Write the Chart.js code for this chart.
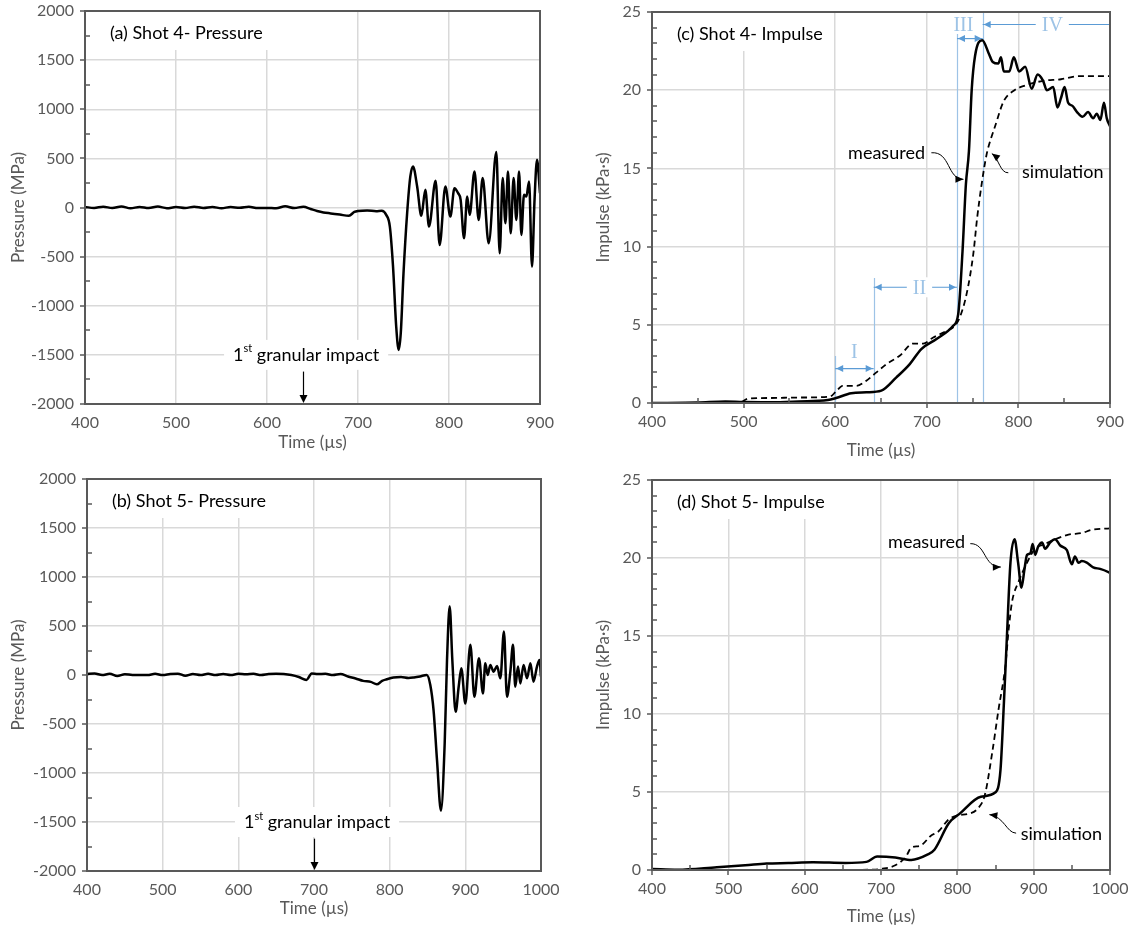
<!DOCTYPE html>
<html>
<head>
<meta charset="utf-8">
<script src="https://cdn.jsdelivr.net/npm/chart.js@4.4.1/dist/chart.umd.min.js"></script>
<style>
  html, body { margin: 0; padding: 0; background: #fff; }
  #wrap { position: relative; width: 1130px; height: 932px; }
  canvas { position: absolute; }
</style>
</head>
<body>
<div id="wrap">
  <canvas id="chartA" width="565" height="466" style="left:0;top:0"></canvas>
  <canvas id="chartC" width="565" height="466" style="left:565px;top:0"></canvas>
  <canvas id="chartB" width="565" height="466" style="left:0;top:466px"></canvas>
  <canvas id="chartD" width="565" height="466" style="left:565px;top:466px"></canvas>
</div>
<script>
// ─── Gauge records (time in µs) ──────────────────────────
const shot4PressureTime = [400, 410, 420, 430, 440, 450, 460, 470, 480, 490, 500, 510, 520, 530, 540, 550, 560, 570, 580, 590,
  600, 610, 620, 630, 640, 648, 655, 662, 670, 680, 690, 696, 700, 710, 720, 726, 731, 735, 738.5, 742, 744.7, 747, 750, 754,
  757.5, 760.4, 765, 769.6, 774, 778, 785.3, 789.7, 796, 801.5, 806, 810, 812.8, 816.5, 820, 822.7, 828, 832.6, 837, 843.6,
  852, 855.7, 859, 862, 864.8, 867.8, 871, 874, 877, 879.5, 882.4, 885, 888, 891.2, 894, 896.7, 900];
const shot4Pressure = [5, -4, 8, -6, 10, -8, 6, -5, 9, -7, 4, -6, 8, -4, 6, -8, 5, -3, 7, -6,
  -4, -8, 12, -6, 8, -15, -35, -50, -60, -72, -85, -45, -35, -30, -38, -34, -75, -194, -602, -1214, -1450, -1280, -670, -58,
  316, 418, 214, -85, 180, -194, 272, -381, 214, -92, 197, 146, 78, -313, 112, -75, 367, -126, 299, -364,
  564, -466, 299, -160, 367, -262, 299, -126, 367, -279, 129, 112, 265, -602, 78, 486, 146];

const shot5PressureTime = [400, 410, 420, 430, 440, 450, 460, 470, 480, 490, 500, 510, 520, 530, 540, 550, 560, 570, 580, 590,
  600, 610, 620, 630, 640, 650, 660, 670, 680, 690, 697, 705, 715, 725, 735, 745, 755, 765, 775, 783, 790, 796, 805, 815, 825,
  832, 840, 849, 853.7, 858, 862.6, 867.8, 872.7, 875.8, 879.3, 882.8, 887.2, 891.2, 894.7, 900, 906.6, 912, 918, 923.3, 926.4,
  929.5, 933, 937.4, 941.9, 946.3, 951, 955, 959.5, 963, 966, 969.6, 972.7, 977, 981.5, 986, 990, 994.7, 998, 1000];
const shot5Pressure = [10, 15, 0, 12, -10, 8, 0, 0, 0, 12, 0, 10, 14, -8, 10, 0, 12, 0, 10, 0,
  12, 8, 12, 0, 10, 12, 10, 0, -20, -50, 15, 10, 12, 0, 10, -15, -35, -60, -70, -95, -60, -44, -25, -20, -30,
  -25, -15, 0, -103, -359, -872, -1385, -701, 154, 701, 154, -376, -120, 68, -291, 308, -222, 171, -188, 120,
  0, 103, 34, 92, -34, 445, -222, 34, 308, -120, 86, -86, 103, -34, 120, -68, 86, 154, -17];

// Impulse (kPa·s): measured and simulated
const shot4MeasuredTime = [400, 450, 480, 500, 530, 560, 592, 601, 617.5, 634, 650.4, 666.8, 681.4, 694, 710.6, 728.8, 734.3,
  739, 742.7, 746, 749, 752.7, 760.5, 768, 772, 778, 781, 784, 790, 795, 800.8, 807.4, 814.5, 821, 827, 831, 838, 842.6,
  846.5, 850.4, 854.3, 859, 864, 870, 876, 881.6, 885.5, 889.5, 893.4, 896.5, 900];
const shot4Measured = [0, 0.03, 0.1, 0.06, 0.05, 0.1, 0.19, 0.32, 0.62, 0.68, 0.79, 1.64, 2.49, 3.45, 4.09, 4.94, 5.68,
  9.7, 14, 16.1, 20, 22.2, 23.2, 22.3, 21.8, 21.7, 22.1, 21.2, 21.2, 22.1, 21.2, 21.5, 20.1, 21, 20.6, 20, 20.2, 18.9,
  19.5, 20.2, 19.2, 19, 18.6, 18.3, 18.6, 18.2, 18.5, 18.1, 19.2, 18.2, 17.7];
const shot4SimTime = [400, 495, 505, 530, 560, 594, 601, 608, 623, 634, 645, 656, 670.4, 685, 696, 707, 721.5, 730.7, 736,
  743.4, 750.7, 755, 759.9, 765.3, 770, 774, 784, 795.7, 807.4, 827, 846.5, 866, 885.5, 900];
const shot4Sim = [0, 0.02, 0.28, 0.32, 0.35, 0.4, 0.74, 1.1, 1.1, 1.43, 1.96, 2.49, 3.02, 3.8, 3.8, 4.19, 4.6, 4.94, 5.47,
  6.96, 9.5, 11.85, 14, 15.9, 16.9, 17.6, 19.3, 20, 20.3, 20.6, 20.7, 20.9, 20.9, 20.9];

const shot5MeasuredTime = [400, 433.6, 485, 522, 550, 578.5, 611, 653, 681, 695, 718.7, 739.7, 760.7, 770, 788.8, 802.8, 830.8,
  850, 856.5, 861, 865, 869.6, 875, 879.6, 884, 888, 891.3, 895.6, 898.7, 902, 905.6, 911, 915, 921.7, 928, 934.8, 943.5,
  950, 954, 958.7, 963, 969.6, 978, 987, 998, 1000];
const shot5Measured = [0.07, 0.02, 0.18, 0.3, 0.41, 0.45, 0.5, 0.45, 0.52, 0.86, 0.8, 0.64, 0.98, 1.3, 3.0, 3.6, 4.7,
  4.98, 6.4, 10.7, 15, 19.7, 21.2, 19.7, 18.1, 19.3, 20.2, 20.3, 20.9, 20.2, 20.7, 21, 20.6, 21, 21.2, 20.8, 20.5,
  19.6, 20.1, 19.7, 19.8, 19.7, 19.4, 19.3, 19.1, 19.05];
const shot5SimTime = [400, 500, 600, 690, 700, 718.7, 732.7, 739.7, 751.4, 765.4, 774.8, 788.8, 800.5, 814.5, 826, 836,
  845.6, 854, 863, 867.4, 871.7, 880.4, 891.3, 902, 915, 928, 945.6, 963, 976, 1000];
const shot5Sim = [0, 0, 0, 0.02, 0.07, 0.3, 0.86, 1.43, 1.55, 2.2, 2.45, 3.25, 3.5, 3.6, 3.9, 4.8,
  7.5, 10.3, 13.1, 15.5, 17.2, 18.5, 19.7, 20.6, 20.9, 21.2, 21.5, 21.6, 21.8, 21.9];

Chart.defaults.font.family = 'Lato';
Chart.defaults.color = '#595959';

const pts = (ts, vs) => ts.map((t, i) => ({ x: t, y: vs[i] }));

// ─── Plot frame + Excel-style tick marks ──────────────────
const frame = {
  id: 'frame',
  afterDatasetsDraw(chart, args, opts) {
    const { ctx, chartArea: a, scales: { x, y } } = chart;
    ctx.save();
    ctx.strokeStyle = '#595959';
    ctx.lineWidth = 1.5;
    ctx.beginPath();
    const steps = Math.round((y.max - y.min) / opts.yMinor);
    for (let i = 0; i <= steps; i++) {
      const v = y.min + i * opts.yMinor;
      const py = Math.round(y.getPixelForValue(v));
      const major = Math.abs(v / opts.yMajor - Math.round(v / opts.yMajor)) < 1e-6;
      if (major) { ctx.moveTo(a.left - 5, py); ctx.lineTo(a.left, py); }
      else { ctx.moveTo(a.left, py); ctx.lineTo(a.left + 5, py); }
    }
    if (opts.xMinor) {
      const n = Math.round((x.max - x.min) / opts.xMinor);
      for (let i = 0; i <= n; i++) {
        const v = x.min + i * opts.xMinor;
        const pxx = Math.round(x.getPixelForValue(v));
        if (i % 2 === 0) { ctx.moveTo(pxx, a.bottom); ctx.lineTo(pxx, a.bottom + 5); }
        else { ctx.moveTo(pxx, a.bottom); ctx.lineTo(pxx, a.bottom - 5); }
      }
    }
    ctx.stroke();
    ctx.lineWidth = 2;
    ctx.strokeRect(a.left, a.top, a.width, a.height);
    ctx.restore();
  }
};

function toPx(chart, t, v) {
  return [chart.scales.x.getPixelForValue(t), chart.scales.y.getPixelForValue(v)];
}

function arrowHead(ctx, x0, y0, x1, y1, len, half) {
  const a = Math.atan2(y1 - y0, x1 - x0);
  const bx = x1 - len * Math.cos(a), by = y1 - len * Math.sin(a);
  ctx.beginPath();
  ctx.moveTo(x1, y1);
  ctx.lineTo(bx + half * Math.sin(a), by - half * Math.cos(a));
  ctx.lineTo(bx - half * Math.sin(a), by + half * Math.cos(a));
  ctx.closePath();
  ctx.fill();
}

function drawTitle(chart, text) {
  const { ctx, chartArea: a } = chart;
  ctx.save();
  ctx.font = '18px Lato';
  const w = ctx.measureText(text).width;
  ctx.fillStyle = '#fff';
  ctx.fillRect(a.left + 14, a.top + 1, w + 22, 38);
  ctx.fillStyle = '#000';
  ctx.textBaseline = 'middle';
  ctx.fillText(text, a.left + 25, a.top + 22);
  ctx.restore();
}

// "1st granular impact" label with a down arrow onto the time axis
function drawImpact(chart, labelT, arrowT) {
  const { ctx, scales: { x, y } } = chart;
  const cx = x.getPixelForValue(labelT), cy = y.getPixelForValue(-1500);
  ctx.save();
  ctx.font = '18px Lato';
  const w1 = ctx.measureText('1').width;
  const w3 = ctx.measureText(' granular impact').width;
  ctx.font = '11px Lato';
  const w2 = ctx.measureText('st').width;
  const w = w1 + w2 + w3;
  ctx.fillStyle = '#fff';
  ctx.fillRect(cx - w / 2 - 9, cy - 15, w + 18, 30);
  ctx.fillStyle = '#000';
  ctx.textBaseline = 'middle';
  ctx.font = '18px Lato';
  ctx.fillText('1', cx - w / 2, cy);
  ctx.fillText(' granular impact', cx - w / 2 + w1 + w2, cy);
  ctx.font = '11px Lato';
  ctx.fillText('st', cx - w / 2 + w1, cy - 6);
  const ax = Math.round(x.getPixelForValue(arrowT)) + 0.5;
  const top = y.getPixelForValue(-1670), bot = y.getPixelForValue(-2000);
  ctx.strokeStyle = '#000';
  ctx.lineWidth = 1.2;
  ctx.beginPath();
  ctx.moveTo(ax, top);
  ctx.lineTo(ax, bot - 6);
  ctx.stroke();
  arrowHead(ctx, ax, top, ax, bot - 1, 8, 4);
  ctx.restore();
}

// Curved callout: text plus a bezier arrow given in data coordinates
function drawCallout(chart, c) {
  const { ctx } = chart;
  ctx.save();
  ctx.font = '18px Lato';
  ctx.fillStyle = '#000';
  ctx.textBaseline = 'middle';
  ctx.textAlign = c.align;
  const [tx, ty] = toPx(chart, c.at[0], c.at[1]);
  ctx.fillText(c.text, tx, ty);
  const p = c.curve.map(q => toPx(chart, q[0], q[1]));
  ctx.strokeStyle = '#000';
  ctx.lineWidth = 1;
  ctx.beginPath();
  ctx.moveTo(p[0][0], p[0][1]);
  ctx.bezierCurveTo(p[1][0], p[1][1], p[2][0], p[2][1], p[3][0], p[3][1]);
  ctx.stroke();
  arrowHead(ctx, p[2][0], p[2][1], p[3][0], p[3][1], 8, 3.5);
  ctx.restore();
}

// Phase brackets I–IV for shot 4
const phaseLines = [[600, 3.0], [642, 8.0], [733, 23.6], [761, 25]];
function drawPhases(chart) {
  const { ctx } = chart;
  ctx.save();
  ctx.strokeStyle = '#9dc3e6';
  ctx.lineWidth = 1.2;
  ctx.beginPath();
  phaseLines.forEach(([t, top]) => {
    const [lx, ly] = toPx(chart, t, top);
    const [, by] = toPx(chart, t, 0);
    ctx.moveTo(Math.round(lx) + 0.5, ly);
    ctx.lineTo(Math.round(lx) + 0.5, by);
  });
  ctx.stroke();

  ctx.font = '20px "Liberation Serif"';
  ctx.textAlign = 'center';
  ctx.textBaseline = 'middle';
  const span = (t0, t1, v, heads) => {
    const [x0, y0] = toPx(chart, t0, v);
    const [x1] = toPx(chart, t1, v);
    ctx.strokeStyle = '#5b9bd5';
    ctx.fillStyle = '#5b9bd5';
    ctx.lineWidth = 1.2;
    ctx.beginPath();
    ctx.moveTo(x0, y0);
    ctx.lineTo(x1, y0);
    ctx.stroke();
    if (heads[0]) arrowHead(ctx, x1, y0, x0 + 1, y0, 7, 3.5);
    if (heads[1]) arrowHead(ctx, x0, y0, x1 - 1, y0, 7, 3.5);
  };
  const label = (text, t, v, boxed) => {
    const [lx, ly] = toPx(chart, t, v);
    if (boxed) {
      const w = ctx.measureText(text).width;
      ctx.fillStyle = '#fff';
      ctx.fillRect(lx - w / 2 - 6, ly - 10, w + 12, 20);
    }
    ctx.fillStyle = '#9dc3e6';
    ctx.fillText(text, lx, ly + 1);
  };
  span(600, 642, 2.2, [true, true]);
  label('I', 621, 3.25, false);
  span(642, 733, 7.4, [true, true]);
  label('II', 692, 7.4, true);
  span(733, 761, 23.3, [true, true]);
  label('III', 740, 24.2, false);
  span(761, 900, 24.2, [true, false]);
  label('IV', 837, 24.2, true);
  ctx.restore();
}

function notes(draw) {
  return { id: 'notes', beforeDatasetsDraw: chart => draw(chart) };
}

function solid(data) {
  return { data, borderColor: '#000', borderWidth: 2.5, pointRadius: 0, cubicInterpolationMode: 'monotone' };
}
function dashed(data) {
  return { data, borderColor: '#000', borderWidth: 1.8, borderDash: [6, 4], pointRadius: 0, cubicInterpolationMode: 'monotone' };
}

function makeChart(id, cfg) {
  const grid = { color: '#d9d9d9', lineWidth: 1.5, drawTicks: false };
  return new Chart(document.getElementById(id), {
    type: 'line',
    data: { datasets: cfg.datasets },
    options: {
      responsive: false,
      animation: false,
      devicePixelRatio: 1,
      layout: { padding: { top: cfg.top, right: cfg.right, bottom: 0, left: 0 } },
      plugins: { legend: { display: false }, tooltip: { enabled: false }, frame: cfg.frame },
      scales: {
        x: {
          type: 'linear', min: cfg.xMin, max: cfg.xMax,
          grid, border: { display: false },
          ticks: { stepSize: 100, padding: 9, autoSkip: false, maxRotation: 0, font: { size: 16 }, color: '#595959',
            callback: v => String(v) },
          title: { display: true, text: 'Time (µs)', font: { size: 17 }, color: '#595959',
            padding: { top: 0, bottom: cfg.xTitlePad } },
          afterFit: s => { s.height = cfg.xHeight; s.paddingLeft = 0; s.paddingRight = 0; }
        },
        y: {
          min: cfg.yMin, max: cfg.yMax,
          grid, border: { display: false },
          ticks: { stepSize: cfg.yStep, padding: 11, font: { size: 16 }, color: '#595959', callback: v => String(v) },
          title: { display: true, text: cfg.yTitle, font: { size: 17 }, color: '#595959',
            padding: { top: cfg.yTitlePad, bottom: 0 } },
          afterFit: s => { s.width = cfg.yWidth; s.paddingTop = 0; s.paddingBottom = 0; }
        }
      }
    },
    plugins: [frame, notes(cfg.notes)]
  });
}

// (a) Shot 4 pressure
makeChart('chartA', {
  datasets: [solid(pts(shot4PressureTime, shot4Pressure))],
  xMin: 400, xMax: 900, yMin: -2000, yMax: 2000, yStep: 500,
  yTitle: 'Pressure (MPa)', top: 11, right: 25, xHeight: 62, yWidth: 85, xTitlePad: 13, yTitlePad: 8,
  frame: { yMinor: 250, yMajor: 500 },
  notes: chart => { drawTitle(chart, '(a) Shot 4- Pressure'); drawImpact(chart, 643, 640); }
});

// (b) Shot 5 pressure
makeChart('chartB', {
  datasets: [solid(pts(shot5PressureTime, shot5Pressure))],
  xMin: 400, xMax: 1000, yMin: -2000, yMax: 2000, yStep: 500,
  yTitle: 'Pressure (MPa)', top: 13, right: 24, xHeight: 61, yWidth: 87, xTitlePad: 13, yTitlePad: 8,
  frame: { yMinor: 250, yMajor: 500 },
  notes: chart => { drawTitle(chart, '(b) Shot 5- Pressure'); drawImpact(chart, 704, 700); }
});

// (c) Shot 4 impulse
makeChart('chartC', {
  datasets: [dashed(pts(shot4SimTime, shot4Sim)), solid(pts(shot4MeasuredTime, shot4Measured))],
  xMin: 400, xMax: 900, yMin: 0, yMax: 25, yStep: 5,
  yTitle: 'Impulse (kPa·s)', top: 12, right: 20, xHeight: 63, yWidth: 87, xTitlePad: 5, yTitlePad: 28,
  frame: { yMinor: 1, yMajor: 5, xMinor: 50 },
  notes: chart => {
    drawTitle(chart, '(c) Shot 4- Impulse');
    drawPhases(chart);
    drawCallout(chart, { text: 'measured', at: [698, 16.0], align: 'right',
      curve: [[705, 16.0], [726, 16.1], [722, 14.3], [740, 14.3]] });
    drawCallout(chart, { text: 'simulation', at: [804, 14.75], align: 'left',
      curve: [[789, 14.72], [780, 14.7], [779, 15.6], [771, 15.95]] });
  }
});

// (d) Shot 5 impulse
makeChart('chartD', {
  datasets: [dashed(pts(shot5SimTime, shot5Sim)), solid(pts(shot5MeasuredTime, shot5Measured))],
  xMin: 400, xMax: 1000, yMin: 0, yMax: 25, yStep: 5,
  yTitle: 'Impulse (kPa·s)', top: 14, right: 20, xHeight: 62, yWidth: 87, xTitlePad: 5, yTitlePad: 28,
  frame: { yMinor: 1, yMajor: 5, xMinor: 50 },
  notes: chart => {
    drawTitle(chart, '(d) Shot 5- Impulse');
    drawCallout(chart, { text: 'measured', at: [810, 21.0], align: 'right',
      curve: [[817, 20.92], [838, 20.95], [834, 19.4], [857, 19.42]] });
    drawCallout(chart, { text: 'simulation', at: [883, 2.3], align: 'left',
      curve: [[877, 2.36], [864, 2.4], [862, 3.4], [842, 3.55]] });
  }
});
</script>
</body>
</html>
